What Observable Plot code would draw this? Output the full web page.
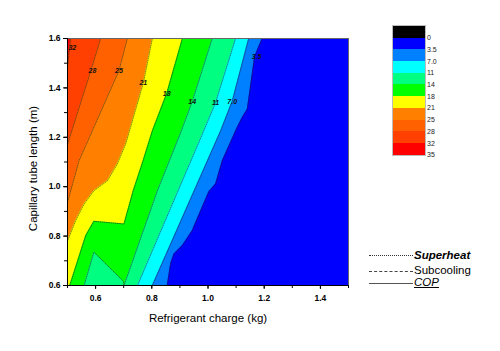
<!DOCTYPE html>
<html>
<head>
<meta charset="utf-8">
<script src="https://cdn.jsdelivr.net/npm/d3@7"></script>
<script src="https://cdn.jsdelivr.net/npm/@observablehq/plot@0.6"></script>
<style>
  html, body { margin: 0; padding: 0; background: #fff; }
  #wrap { position: relative; width: 500px; height: 351px; overflow: hidden; font-family: "Liberation Sans", Arial, sans-serif; }
  #wrap svg { position: absolute; left: 0; top: 0; }
  .bar { position: absolute; left: 392px; top: 25px; width: 32px; border: 1px solid #bbb; box-sizing: content-box; }
  .sw { height: 11.7px; }
  .bl { position: absolute; left: 427px; font-size: 7px; color: #222; line-height: 7px; }
  .ll { position: absolute; left: 369px; width: 44px; height: 0; }
  .lt { position: absolute; left: 414px; font-size: 11.5px; color: #000; line-height: 10px; height: 10px; white-space: nowrap; }
</style>
</head>
<body>
<div id="wrap"></div>
<script>
// ---- data ----
const xDomain = [0.5, 1.5];
const yDomain = [0.6, 1.6];
const xTickValues = [0.6, 0.8, 1.0, 1.2, 1.4];
const yTickValues = [0.6, 0.8, 1.0, 1.2, 1.4, 1.6];
const xMinorTicks = [0.5, 0.6, 0.7, 0.8, 0.9, 1.0, 1.1, 1.2, 1.3, 1.4, 1.5];
const yMinorTicks = [0.6, 0.7, 0.8, 0.9, 1.0, 1.1, 1.2, 1.3, 1.4, 1.5, 1.6];

const levels = [32, 28, 25, 21, 18, 14, 11, 7.0, 3.5];
const levelFills = ["#ff4000", "#ff6000", "#ff8000", "#ffff00", "#00ff00", "#00ff80", "#00ffff", "#0080ff", "#0000ff"];
const topFill = "#ff0000";

// contour boundary lines (superheat), from top of frame downwards
const c32X = [0.511, 0.5];
const c32Y = [1.6, 1.482];
const c28X = [0.618, 0.583, 0.5];
const c28Y = [1.6, 1.469, 1.172];
const c25X = [0.713, 0.683, 0.541, 0.5];
const c25Y = [1.6, 1.469, 1.105, 0.937];
const c21X = [0.802, 0.770, 0.707, 0.677, 0.642, 0.594, 0.559, 0.529, 0.5];
const c21Y = [1.6, 1.421, 1.173, 1.092, 1.024, 0.984, 0.930, 0.863, 0.78];
const c18X = [0.909, 0.853, 0.802, 0.769, 0.734, 0.701, 0.594, 0.565, 0.508];
const c18Y = [1.6, 1.377, 1.226, 1.105, 0.984, 0.849, 0.860, 0.802, 0.6];
const c14X = [1.015, 0.944, 0.905, 0.820, 0.701];
const c14Y = [1.6, 1.345, 1.226, 0.984, 0.6];
const c11X = [1.098, 1.027, 0.975, 0.749];
const c11Y = [1.6, 1.341, 1.2, 0.6];
const c7X = [1.145, 1.086, 1.045, 0.802];
const c7Y = [1.6, 1.345, 1.226, 0.6];
const c35X = [1.193, 1.166, 1.140, 1.122, 1.104, 1.051, 1.027, 1.003, 0.974, 0.944, 0.909, 0.879, 0.867, 0.855];
const c35Y = [1.6, 1.526, 1.314, 1.280, 1.240, 1.105, 1.011, 0.980, 0.903, 0.822, 0.762, 0.728, 0.688, 0.6];
const boundaryX = [c32X, c28X, c25X, c21X, c18X, c14X, c11X, c7X, c35X];
const boundaryY = [c32Y, c28Y, c25Y, c21Y, c18Y, c14Y, c11Y, c7Y, c35Y];

// closed 11–14 patch at the bottom
const patchX = [0.559, 0.594, 0.699, 0.701];
const patchY = [0.6, 0.735, 0.617, 0.6];
const patchFill = "#00ff80";

// contour labels
const labelText = ["32", "28", "25", "21", "18", "14", "11", "7.0", "3.5"];
const labelX = [0.517, 0.589, 0.683, 0.770, 0.853, 0.944, 1.027, 1.086, 1.173];
const labelY = [1.563, 1.469, 1.469, 1.421, 1.377, 1.345, 1.341, 1.345, 1.525];

// colour bar legend (top to bottom)
const legendColors = ["#000000", "#0000ff", "#0080ff", "#00ffff", "#00ff80", "#00ff00", "#ffff00", "#ff8000", "#ff6000", "#ff4000", "#ff0000"];
const legendLabels = ["0", "3.5", "7.0", "11", "14", "18", "21", "25", "28", "32", "35"];

// line-style legend
const lineNames = ["Superheat", "Subcooling", "COP"];

// ---- build ----
const toPts = (xs, ys) => xs.map((x, j) => ({x, y: ys[j]}));

const areaMarks = levels.map((L, i) => {
  const pts = toPts(boundaryX[i], boundaryY[i]);
  const last = pts[pts.length - 1];
  if (last.y > yDomain[0]) pts.push({x: xDomain[0], y: yDomain[0]});
  return Plot.area(pts, {x1: "x", y1: "y", x2: () => xDomain[1], y2: "y", fill: levelFills[i], curve: "linear"});
});

const lineStyle = {x: "x", y: "y", stroke: "#222", strokeWidth: 0.7, strokeDasharray: "1,1.2", strokeOpacity: 0.8};
const lineMarks = levels.map((L, i) => Plot.line(toPts(boundaryX[i], boundaryY[i]), lineStyle));

const patchPts = toPts(patchX, patchY);
const labels = labelText.map((t, i) => ({t, x: labelX[i], y: labelY[i]}));

const chart = Plot.plot({
  width: 500,
  height: 351,
  marginLeft: 67,
  marginRight: 152,
  marginTop: 38,
  marginBottom: 66,
  x: {domain: xDomain},
  y: {domain: yDomain},
  style: {fontFamily: "'Liberation Sans', Arial, sans-serif", background: "transparent", color: "#000"},
  marks: [
    Plot.frame({fill: topFill, stroke: null}),
    ...areaMarks,
    Plot.areaY(patchPts, {x: "x", y1: () => yDomain[0], y2: "y", fill: patchFill}),
    ...lineMarks,
    Plot.line(patchPts, lineStyle),
    Plot.text(labels, {x: "x", y: "y", text: "t", fontSize: 7, fontWeight: "bold", fontStyle: "italic", fill: "#111"}),
    Plot.frame({stroke: "#666", strokeWidth: 1}),
    Plot.ruleX([xDomain[0]], {stroke: "#000"}),
    Plot.ruleY([yDomain[0]], {stroke: "#000"}),
    Plot.axisX({ticks: xMinorTicks, tickSize: 3, tickFormat: () => "", label: null}),
    Plot.axisY({ticks: yMinorTicks, tickSize: 3, tickFormat: () => "", label: null}),
    Plot.axisX({ticks: xTickValues, tickSize: 4, tickPadding: 5, tickFormat: d3.format(".1f"), fontSize: 8.5, fontWeight: "bold", label: null}),
    Plot.axisY({ticks: yTickValues, tickSize: 4, tickPadding: 3, tickFormat: d3.format(".1f"), fontSize: 8.5, fontWeight: "bold", label: null}),
    Plot.text(["Refrigerant charge (kg)"], {frameAnchor: "bottom", lineAnchor: "middle", dy: 33, fontSize: 11.5, fill: "#000"}),
    Plot.text(["Capillary tube length (m)"], {frameAnchor: "left", textAnchor: "middle", lineAnchor: "middle", rotate: -90, dx: -34, dy: 6.5, fontSize: 11.5, fill: "#000"})
  ]
});

const wrap = document.getElementById("wrap");
wrap.appendChild(chart);

// colour bar
const bar = document.createElement("div");
bar.className = "bar";
legendColors.forEach(c => {
  const s = document.createElement("div");
  s.className = "sw";
  s.style.background = c;
  bar.appendChild(s);
});
wrap.appendChild(bar);
legendLabels.forEach((t, i) => {
  const l = document.createElement("div");
  l.className = "bl";
  l.textContent = t;
  l.style.top = (25 + 11.7 * (i + 1) - 2.5) + "px";
  wrap.appendChild(l);
});

// line-style legend
const lineCss = ["1px dotted #333", "1px dashed #444", "1px solid #555"];
const textCss = [
  "font-weight:bold;font-style:italic;",
  "",
  "font-style:italic;text-decoration:underline;"
];
const rowY = [255, 270.5, 282.5];
lineNames.forEach((name, i) => {
  const ln = document.createElement("div");
  ln.className = "ll";
  ln.style.top = rowY[i] + "px";
  ln.style.borderTop = lineCss[i];
  wrap.appendChild(ln);
  const tx = document.createElement("div");
  tx.className = "lt";
  tx.style.cssText = textCss[i];
  tx.style.top = (rowY[i] - 5.5) + "px";
  tx.textContent = name;
  wrap.appendChild(tx);
});
</script>
</body>
</html>
